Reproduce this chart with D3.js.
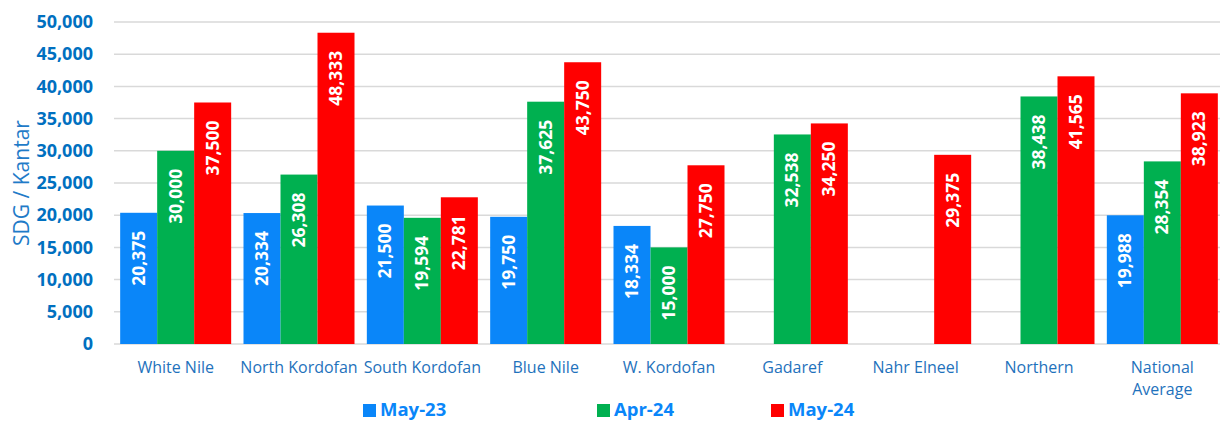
<!DOCTYPE html>
<html>
<head>
<meta charset="utf-8">
<script src="https://cdn.jsdelivr.net/npm/d3@7"></script>
<style>
  body { margin: 0; background: #fff; }
  svg text { font-family: "Open Sans", "Noto Sans", sans-serif; }
</style>
</head>
<body>
<div id="chart"></div>
<script>
// data
const categories = ["White Nile", "North Kordofan", "South Kordofan", "Blue Nile", "W. Kordofan",
  "Gadaref", "Nahr Elneel", "Northern", "National Average"];
const seriesNames = ["May-23", "Apr-24", "May-24"];
const may23 = [20375, 20334, 21500, 19750, 18334, null, null, null, 19988];
const apr24 = [30000, 26308, 19594, 37625, 15000, 32538, null, 38438, 28354];
const may24 = [37500, 48333, 22781, 43750, 27750, 34250, 29375, 41565, 38923];
const yTicks = [0, 5000, 10000, 15000, 20000, 25000, 30000, 35000, 40000, 45000, 50000];

const colors = { "May-23": "#0A86F9", "Apr-24": "#00B050", "May-24": "#FF0000" };

const W = 1220, H = 424;
const margin = { top: 22, right: -4, bottom: 80, left: 114 };
const width = W - margin.left - margin.right,
  height = H - margin.top - margin.bottom;

const svg = d3.select("#chart").append("svg")
  .attr("width", W).attr("height", H);
const g = svg.append("g").attr("transform", `translate(${margin.left},${margin.top})`);

const x = d3.scaleBand().domain(categories).range([0, width]).paddingInner(0.1).paddingOuter(0.05);
const xs = d3.scaleBand().domain(seriesNames).range([0, x.bandwidth()]);
const y = d3.scaleLinear().domain([0, 50000]).range([height, 0]);

// gridlines
g.append("g").selectAll("line").data(yTicks).join("line")
  .attr("x1", 0).attr("x2", width)
  .attr("y1", d => y(d)).attr("y2", d => y(d))
  .attr("stroke", "#D9D9D9").attr("stroke-width", 1.5);

// y axis labels
g.append("g")
  .call(d3.axisLeft(y).tickValues(yTicks).tickSize(0).tickPadding(21).tickFormat(d3.format(",")))
  .call(a => a.select(".domain").remove())
  .selectAll("text")
  .attr("fill", "#0070C0")
  .style("font-size", "18px")
  .style("font-weight", "bold")
  .style("font-family", "'Open Sans', sans-serif");

svg.append("text")
  .attr("transform", `translate(22,183) rotate(-90)`)
  .attr("text-anchor", "middle")
  .attr("dy", "0.35em")
  .attr("fill", "#1F7BC8")
  .style("font-size", "21px")
  .text("SDG / Kantar");

// bars
const series = [
  { name: "May-23", values: may23 },
  { name: "Apr-24", values: apr24 },
  { name: "May-24", values: may24 }
];
const rows = [];
series.forEach(s => s.values.forEach((v, i) => {
  if (v != null) rows.push({ cat: categories[i], name: s.name, value: v });
}));

const bars = g.append("g").selectAll("g").data(rows).join("g")
  .attr("transform", d => `translate(${x(d.cat) + xs(d.name)},0)`);

bars.append("rect")
  .attr("x", 0)
  .attr("width", xs.bandwidth())
  .attr("y", d => y(d.value))
  .attr("height", d => height - y(d.value))
  .attr("fill", d => colors[d.name]);

bars.append("text")
  .attr("transform", d => `translate(${xs.bandwidth() / 2},${y(d.value) + 18}) rotate(-90)`)
  .attr("text-anchor", "end")
  .attr("dy", "0.35em")
  .attr("fill", "#fff")
  .style("font-size", "17.5px")
  .style("font-weight", "bold")
  .text(d => d3.format(",")(d.value));

// x labels
const xl = g.append("g").selectAll("text").data(categories).join("text")
  .attr("x", d => x(d) + x.bandwidth() / 2)
  .attr("y", height + 29)
  .attr("text-anchor", "middle")
  .attr("fill", "#1F72BC")
  .style("font-size", "16px");
xl.each(function (d) {
  const t = d3.select(this);
  const parts = d === "National Average" ? ["National", "Average"] : [d];
  parts.forEach((p, i) => t.append("tspan").attr("x", x(d) + x.bandwidth() / 2).attr("dy", i ? 22 : 0).text(p));
});

// legend
const legendX = [363, 597, 771];
const legend = svg.append("g").selectAll("g").data(seriesNames).join("g")
  .attr("transform", (d, i) => `translate(${legendX[i]},404)`);
legend.append("rect").attr("width", 13).attr("height", 13).attr("fill", d => colors[d]);
legend.append("text")
  .attr("x", 17).attr("y", 6).attr("dy", "0.35em")
  .attr("fill", "#0A86F9")
  .style("font-size", "18.5px")
  .style("font-weight", "bold")
  .text(d => d);
</script>
</body>
</html>
